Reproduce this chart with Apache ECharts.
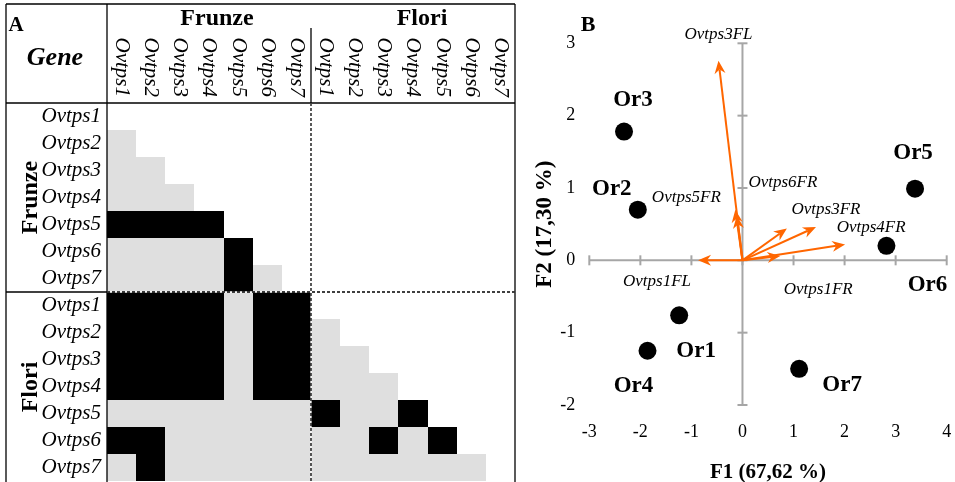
<!DOCTYPE html>
<html>
<head>
<meta charset="utf-8">
<script src="https://cdn.jsdelivr.net/npm/echarts@6/dist/echarts.min.js"></script>
<style>
html,body{margin:0;padding:0;background:#fff;}
#chart{width:955px;height:482px;}
</style>
</head>
<body>
<div id="chart"></div>
<script>
// ---------- Panel A data ----------
const colGenes = ['Ovtps1','Ovtps2','Ovtps3','Ovtps4','Ovtps5','Ovtps6','Ovtps7','Ovtps1','Ovtps2','Ovtps3','Ovtps4','Ovtps5','Ovtps6','Ovtps7'];
const rowGenes = ['Ovtps1','Ovtps2','Ovtps3','Ovtps4','Ovtps5','Ovtps6','Ovtps7','Ovtps1','Ovtps2','Ovtps3','Ovtps4','Ovtps5','Ovtps6','Ovtps7'];
const groups = ['Frunze','Flori'];
// 0 = empty, 1 = grey, 2 = black
const matrixRows = [
  [0,0,0,0,0,0,0, 0,0,0,0,0,0,0],
  [1,0,0,0,0,0,0, 0,0,0,0,0,0,0],
  [1,1,0,0,0,0,0, 0,0,0,0,0,0,0],
  [1,1,1,0,0,0,0, 0,0,0,0,0,0,0],
  [2,2,2,2,0,0,0, 0,0,0,0,0,0,0],
  [1,1,1,1,2,0,0, 0,0,0,0,0,0,0],
  [1,1,1,1,2,1,0, 0,0,0,0,0,0,0],
  [2,2,2,2,1,2,2, 0,0,0,0,0,0,0],
  [2,2,2,2,1,2,2, 1,0,0,0,0,0,0],
  [2,2,2,2,1,2,2, 1,1,0,0,0,0,0],
  [2,2,2,2,1,2,2, 1,1,1,0,0,0,0],
  [1,1,1,1,1,1,1, 2,1,1,2,0,0,0],
  [2,2,1,1,1,1,1, 1,1,2,1,2,0,0],
  [1,2,1,1,1,1,1, 1,1,1,1,1,1,0]
];

// ---------- Panel B data ----------
const obsNames = ['Or1','Or2','Or3','Or4','Or5','Or6','Or7'];
const obsF1 = [-1.24,-2.05,-2.32,-1.86,3.38,2.82,1.11];
const obsF2 = [-0.76,0.70,1.78,-1.25,0.99,0.20,-1.50];
const vecNames = ['Ovtps3FL','Ovtps5FR','Ovtps6FR','','Ovtps3FR','Ovtps4FR','Ovtps1FR','Ovtps1FL'];
const vecF1 = [-0.47,-0.14,-0.11,0.87,1.44,2.01,0.74,-0.87];
const vecF2 = [2.76,0.70,0.62,0.44,0.46,0.22,0.06,0.00];
const xTicks = [-3,-2,-1,0,1,2,3,4];
const yTicks = [-2,-1,0,1,2,3];
const xTitle = 'F1 (67,62 %)';
const yTitle = 'F2 (17,30 %)';

// ---------- styles / layout ----------
const SERIF = '"Liberation Serif","Times New Roman",serif';
const ORANGE = '#ff6600';
const AXGREY = '#a6a6a6';
const cellColors = {1:'#dfdfdf', 2:'#000000'};
const obsLabelOffset = {Or1:[17,36],Or2:[-26,-21],Or3:[9,-31],Or4:[-14,35],Or5:[-2,-36],Or6:[41,39],Or7:[43,16]};
const vecLabelOffset = {Ovtps3FL:[0,-26],Ovtps5FR:[-49,-12],Ovtps6FR:[46,-33],Ovtps3FR:[10,-18],Ovtps4FR:[26,-17],Ovtps1FR:[38,34],Ovtps1FL:[-41,21]};

const T = {left:6, top:4, right:515, bottom:482, labelCol:107, header:103, rowH:27};
const nCols = colGenes.length, nRows = rowGenes.length;
const cellW = (T.right - T.labelCol) / nCols;
const splitX = T.labelCol + cellW * 7;
const splitY = T.header + T.rowH * 7;

// heatmap data
const heatData = [];
matrixRows.forEach((row, r) => row.forEach((v, c) => { if (v > 0) heatData.push([c, r, v]); }));

const chart = echarts.init(document.getElementById('chart'), null, {renderer:'canvas'});

function ln(x1,y1,x2,y2,extra){
  return Object.assign({type:'line', silent:true, z:100, shape:{x1,y1,x2,y2}, style:{stroke:'#000', lineWidth:1.3}}, extra||{});
}
function txt(x,y,text,font,extra){
  return Object.assign({type:'text', x, y, silent:true, z:100, style:Object.assign({text, fill:'#000', fontFamily:SERIF, align:'center', verticalAlign:'middle'}, font)}, extra||{});
}

const graphics = [
  ln(T.left, T.top, T.right, T.top),
  ln(T.left, T.top, T.left, T.bottom),
  ln(T.right, T.top, T.right, T.bottom),
  ln(T.left, T.header, T.right, T.header),
  ln(T.labelCol, T.top, T.labelCol, T.bottom),
  ln(splitX, 28, splitX, T.header),
  ln(splitX, T.header, splitX, T.bottom, {style:{stroke:'#fff', lineWidth:1.3}}),
  ln(splitX, T.header, splitX, T.bottom, {style:{stroke:'#000', lineWidth:1.3, lineDash:[3,2]}}),
  ln(T.left, splitY, T.labelCol, splitY),
  ln(T.labelCol, splitY, T.right, splitY, {style:{stroke:'#fff', lineWidth:1.3}}),
  ln(T.labelCol, splitY, T.right, splitY, {style:{stroke:'#000', lineWidth:1.3, lineDash:[3,2]}}),
  txt(16, 26, 'A', {fontSize:21, fontWeight:'bold'}),
  txt(55, 58, 'Gene', {fontSize:26, fontWeight:'bold', fontStyle:'italic'}),
  txt(217, 19, groups[0], {fontSize:24, fontWeight:'bold'}),
  txt(422, 19, groups[1], {fontSize:24, fontWeight:'bold'}),
  txt(31, (T.header + splitY)/2, groups[0], {fontSize:24, fontWeight:'bold'}, {rotation:Math.PI/2}),
  txt(31, (splitY + T.bottom)/2, groups[1], {fontSize:24, fontWeight:'bold'}, {rotation:Math.PI/2}),
  txt(588, 25, 'B', {fontSize:22, fontWeight:'bold'})
];

const option = {
  animation:false,
  backgroundColor:'#fff',
  graphic:{elements:graphics},
  grid:[
    {left:T.labelCol, top:T.header, width:T.right - T.labelCol, height:T.rowH*nRows, containLabel:false, outerBoundsMode:'none'},
    {left:589.3, top:43.3, width:357.4, height:361.7, containLabel:false, outerBoundsMode:'none'}
  ],
  xAxis:[
    {gridIndex:0, type:'category', position:'top', data:colGenes.map((g,i)=>'c'+i),
     axisLine:{show:false}, axisTick:{show:false}, splitLine:{show:false},
     axisLabel:{interval:0, rotate:90, margin:6, padding:[8,0,0,0], fontFamily:SERIF, fontStyle:'italic', fontSize:21, color:'#000',
       formatter:(v,i)=>colGenes[i]}},
    {gridIndex:1, type:'value', min:-3, max:4, interval:1,
     axisLine:{show:false}, axisTick:{show:false}, splitLine:{show:false},
     axisLabel:{margin:18, fontFamily:SERIF, fontSize:18, color:'#000'},
     name:xTitle, nameLocation:'middle', nameGap:57,
     nameTextStyle:{fontFamily:SERIF, fontWeight:'bold', fontSize:21, color:'#000'}}
  ],
  yAxis:[
    {gridIndex:0, type:'category', inverse:true, data:rowGenes.map((g,i)=>'r'+i),
     axisLine:{show:false}, axisTick:{show:false}, splitLine:{show:false},
     axisLabel:{interval:0, margin:6, fontFamily:SERIF, fontStyle:'italic', fontSize:21, color:'#000',
       formatter:(v,i)=>rowGenes[i]}},
    {gridIndex:1, type:'value', min:-2, max:3, interval:1,
     axisLine:{show:false}, axisTick:{show:false}, splitLine:{show:false},
     axisLabel:{margin:14, fontFamily:SERIF, fontSize:18, color:'#000'},
     name:yTitle, nameLocation:'middle', nameGap:33, nameRotate:90,
     nameTextStyle:{fontFamily:SERIF, fontWeight:'bold', fontSize:23, color:'#000'}}
  ],
  series:[
    {type:'custom', xAxisIndex:0, yAxisIndex:0, data:heatData, silent:true, z:1,
     renderItem:(params, api) => {
       const p = api.coord([api.value(0), api.value(1)]);
       const s = api.size([1,1]);
       const x0 = Math.round(p[0]-s[0]/2), x1 = Math.round(p[0]+s[0]/2);
       const y0 = Math.round(p[1]-s[1]/2), y1 = Math.round(p[1]+s[1]/2);
       const col = cellColors[api.value(2)];
       return {type:'rect', shape:{x:x0, y:y0, width:x1-x0, height:y1-y0},
         style:{fill:col}};
     }},
    {type:'custom', xAxisIndex:1, yAxisIndex:1, data:[[0,0]], clip:false, silent:true, z:1,
     renderItem:(params, api) => {
       const ch = [];
       const st = {stroke:AXGREY, lineWidth:2};
       const a = api.coord([xTicks[0],0]), b = api.coord([xTicks[xTicks.length-1],0]);
       ch.push({type:'line', shape:{x1:a[0],y1:a[1],x2:b[0],y2:b[1]}, style:st});
       xTicks.forEach(t => { const p = api.coord([t,0]); ch.push({type:'line', shape:{x1:p[0],y1:p[1]-5,x2:p[0],y2:p[1]+5}, style:st}); });
       const c = api.coord([0,yTicks[0]]), d = api.coord([0,yTicks[yTicks.length-1]]);
       ch.push({type:'line', shape:{x1:c[0],y1:c[1],x2:d[0],y2:d[1]}, style:st});
       yTicks.forEach(t => { const p = api.coord([0,t]); ch.push({type:'line', shape:{x1:p[0]-5,y1:p[1],x2:p[0]+5,y2:p[1]}, style:st}); });
       return {type:'group', children:ch};
     }},
    {type:'custom', xAxisIndex:1, yAxisIndex:1, clip:false, silent:true, z:3,
     data:vecF1.map((x,i)=>[x, vecF2[i]]),
     renderItem:(params, api) => {
       const o = api.coord([0,0]);
       const e = api.coord([api.value(0), api.value(1)]);
       const ang = Math.atan2(e[1]-o[1], e[0]-o[0]);
       const L = 13, Wd = 5.5, notch = 9;
       const cs = Math.cos(ang), sn = Math.sin(ang);
       const back = [e[0]-L*cs, e[1]-L*sn];
       const nb = [e[0]-notch*cs, e[1]-notch*sn];
       const pl = [back[0]+Wd*sn, back[1]-Wd*cs];
       const pr = [back[0]-Wd*sn, back[1]+Wd*cs];
       const ch = [
         {type:'line', shape:{x1:o[0],y1:o[1],x2:nb[0],y2:nb[1]}, style:{stroke:ORANGE, lineWidth:2}},
         {type:'polygon', shape:{points:[e, pl, nb, pr]}, style:{fill:ORANGE}}
       ];
       const nm = vecNames[params.dataIndex];
       if (nm) {
         const off = vecLabelOffset[nm] || [0,0];
         ch.push({type:'text', x:e[0]+off[0], y:e[1]+off[1],
           style:{text:nm, fill:'#000', fontFamily:SERIF, fontStyle:'italic', fontSize:17, align:'center', verticalAlign:'middle'}});
       }
       return {type:'group', children:ch};
     }},
    {type:'scatter', xAxisIndex:1, yAxisIndex:1, symbol:'circle', symbolSize:18, z:4,
     itemStyle:{color:'#000', opacity:1}, emphasis:{disabled:true},
     data:obsNames.map((n,i)=>({name:n, value:[obsF1[i], obsF2[i]],
       label:{show:true, formatter:n, position:'inside', offset:obsLabelOffset[n],
         fontFamily:SERIF, fontWeight:'bold', fontSize:23, color:'#000', opacity:1}}))}
  ]
};
chart.setOption(option);
</script>
</body>
</html>
